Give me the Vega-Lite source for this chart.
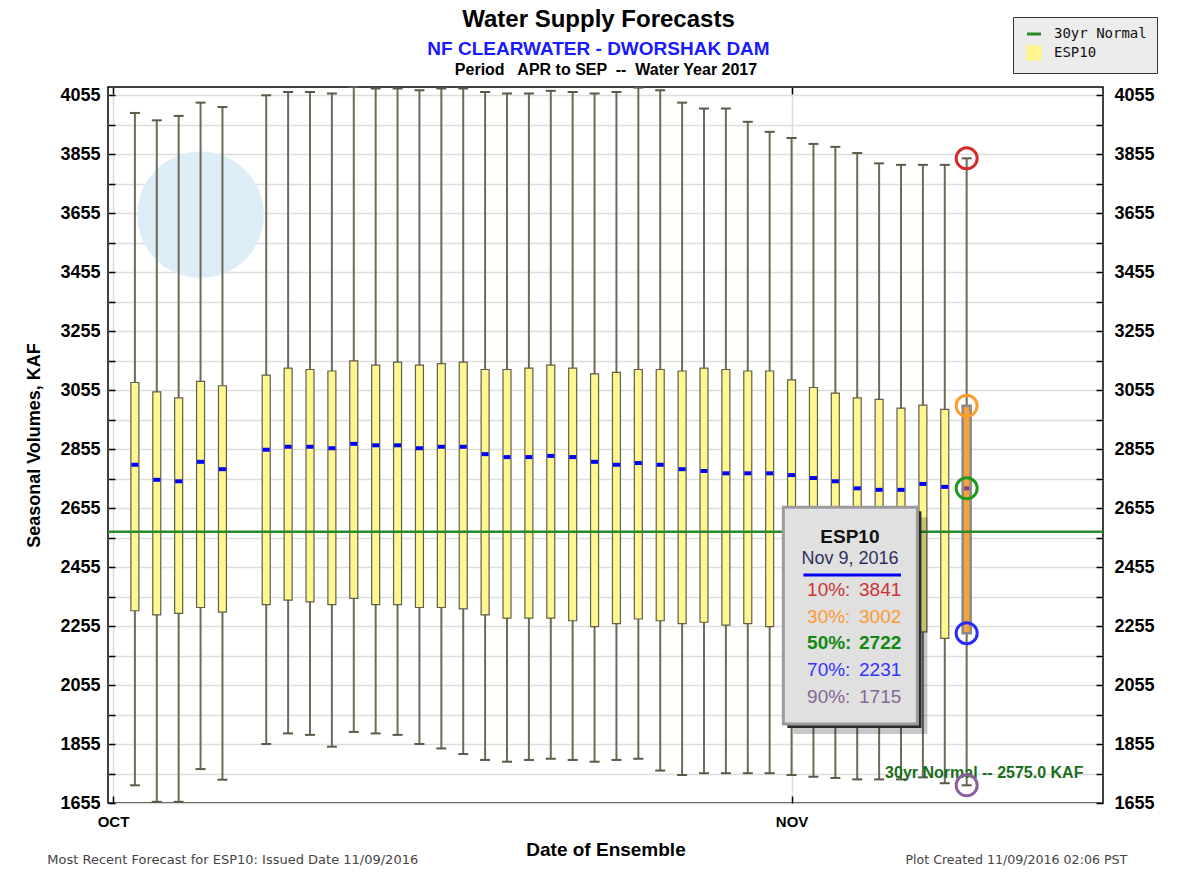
{
  "$schema": "https://vega.github.io/schema/vega-lite/v6.json",
  "width": 995,
  "height": 716,
  "autosize": "none",
  "padding": {"left": 108, "top": 87, "right": 75, "bottom": 75},
  "background": "white",
  "title": {
    "text": "Water Supply Forecasts",
    "subtitle": "NF CLEARWATER - DWORSHAK DAM",
    "font": "Liberation Sans", "fontSize": 24, "fontWeight": "bold", "color": "#000",
    "subtitleFont": "Liberation Sans", "subtitleFontSize": 19, "subtitleFontWeight": "bold", "subtitleColor": "#1a1aff",
    "anchor": "middle", "frame": "group", "dx": -7, "offset": -42, "subtitlePadding": 8
  },
  "datasets": {
    "esp": [
      {"date": "2016-10-02", "p10": 3995, "p30": 3081, "p50": 2802, "p70": 2307, "p90": 1715},
      {"date": "2016-10-03", "p10": 3970, "p30": 3049, "p50": 2751, "p70": 2293, "p90": 1659},
      {"date": "2016-10-04", "p10": 3985, "p30": 3029, "p50": 2746, "p70": 2298, "p90": 1659},
      {"date": "2016-10-05", "p10": 4030, "p30": 3085, "p50": 2812, "p70": 2318, "p90": 1770},
      {"date": "2016-10-06", "p10": 4015, "p30": 3070, "p50": 2787, "p70": 2302, "p90": 1734},
      {"date": "2016-10-08", "p10": 4055, "p30": 3106, "p50": 2853, "p70": 2328, "p90": 1855},
      {"date": "2016-10-09", "p10": 4066, "p30": 3130, "p50": 2863, "p70": 2343, "p90": 1891},
      {"date": "2016-10-10", "p10": 4066, "p30": 3125, "p50": 2863, "p70": 2337, "p90": 1886},
      {"date": "2016-10-11", "p10": 4061, "p30": 3120, "p50": 2858, "p70": 2328, "p90": 1846},
      {"date": "2016-10-12", "p10": 4083, "p30": 3154, "p50": 2873, "p70": 2349, "p90": 1896},
      {"date": "2016-10-13", "p10": 4078, "p30": 3140, "p50": 2868, "p70": 2328, "p90": 1891},
      {"date": "2016-10-14", "p10": 4078, "p30": 3150, "p50": 2868, "p70": 2328, "p90": 1886},
      {"date": "2016-10-15", "p10": 4072, "p30": 3140, "p50": 2858, "p70": 2318, "p90": 1855},
      {"date": "2016-10-16", "p10": 4078, "p30": 3145, "p50": 2863, "p70": 2318, "p90": 1840},
      {"date": "2016-10-17", "p10": 4078, "p30": 3150, "p50": 2863, "p70": 2313, "p90": 1821},
      {"date": "2016-10-18", "p10": 4066, "p30": 3125, "p50": 2838, "p70": 2293, "p90": 1801},
      {"date": "2016-10-19", "p10": 4061, "p30": 3125, "p50": 2828, "p70": 2282, "p90": 1795},
      {"date": "2016-10-20", "p10": 4061, "p30": 3130, "p50": 2828, "p70": 2282, "p90": 1801},
      {"date": "2016-10-21", "p10": 4070, "p30": 3140, "p50": 2832, "p70": 2282, "p90": 1805},
      {"date": "2016-10-22", "p10": 4066, "p30": 3130, "p50": 2828, "p70": 2273, "p90": 1801},
      {"date": "2016-10-23", "p10": 4061, "p30": 3110, "p50": 2812, "p70": 2253, "p90": 1795},
      {"date": "2016-10-24", "p10": 4066, "p30": 3115, "p50": 2802, "p70": 2263, "p90": 1801},
      {"date": "2016-10-25", "p10": 4081, "p30": 3125, "p50": 2808, "p70": 2279, "p90": 1805},
      {"date": "2016-10-26", "p10": 4072, "p30": 3125, "p50": 2802, "p70": 2273, "p90": 1765},
      {"date": "2016-10-27", "p10": 4030, "p30": 3120, "p50": 2787, "p70": 2263, "p90": 1750},
      {"date": "2016-10-28", "p10": 4010, "p30": 3130, "p50": 2781, "p70": 2268, "p90": 1756},
      {"date": "2016-10-29", "p10": 4010, "p30": 3125, "p50": 2773, "p70": 2258, "p90": 1756},
      {"date": "2016-10-30", "p10": 3965, "p30": 3120, "p50": 2773, "p70": 2263, "p90": 1756},
      {"date": "2016-10-31", "p10": 3931, "p30": 3120, "p50": 2773, "p70": 2253, "p90": 1756},
      {"date": "2016-11-01", "p10": 3910, "p30": 3090, "p50": 2767, "p70": 2250, "p90": 1750},
      {"date": "2016-11-02", "p10": 3890, "p30": 3064, "p50": 2757, "p70": 2245, "p90": 1744},
      {"date": "2016-11-03", "p10": 3880, "p30": 3045, "p50": 2746, "p70": 2242, "p90": 1740},
      {"date": "2016-11-04", "p10": 3859, "p30": 3029, "p50": 2722, "p70": 2238, "p90": 1735},
      {"date": "2016-11-05", "p10": 3824, "p30": 3024, "p50": 2717, "p70": 2236, "p90": 1735},
      {"date": "2016-11-06", "p10": 3819, "p30": 2994, "p50": 2717, "p70": 2236, "p90": 1735},
      {"date": "2016-11-07", "p10": 3819, "p30": 3004, "p50": 2737, "p70": 2235, "p90": 1742},
      {"date": "2016-11-08", "p10": 3819, "p30": 2990, "p50": 2727, "p70": 2213, "p90": 1722},
      {"date": "2016-11-09", "p10": 3841, "p30": 3002, "p50": 2722, "p70": 2231, "p90": 1715}
    ]
  },
  "data": {"name": "esp"},
  "layer": [
    {
      "data": {"values": [{}]},
      "mark": {"type": "point", "shape": "circle", "filled": true, "size": 16000, "color": "#dcedf7", "opacity": 1},
      "encoding": {
        "x": {"datum": {"year": 2016, "month": 10, "date": 5, "utc": true}, "type": "temporal", "axis": null},
        "y": {"datum": 3650, "type": "quantitative", "axis": null}
      }
    },
    {
      "mark": {"type": "rule", "stroke": "#6b6b58", "strokeWidth": 2},
      "encoding": {
        "x": {
          "field": "date", "type": "temporal",
          "scale": {"type": "utc", "domain": [{"year": 2016, "month": 10, "date": 1, "utc": true}, {"year": 2016, "month": 11, "date": 15, "utc": true}]},
          "axis": {
            "orient": "bottom",
            "values": [{"year": 2016, "month": 10, "date": 1, "utc": true}, {"year": 2016, "month": 11, "date": 1, "utc": true}],
            "labelExpr": "upper(utcFormat(datum.value, '%b'))",
            "title": "Date of Ensemble",
            "grid": true, "gridColor": "#dddddd", "gridWidth": 1.5,
            "domain": false,
            "tickSize": -7, "tickWidth": 1.5, "tickColor": "#000",
            "labelPadding": 18, "labelFont": "Liberation Sans", "labelFontSize": 15, "labelFontWeight": "bold", "labelColor": "#000", "labelFlush": false,
            "titleFont": "Liberation Sans", "titleFontSize": 19, "titleFontWeight": "bold", "titleColor": "#000", "titlePadding": 11
          }
        },
        "y": {
          "field": "p90", "type": "quantitative",
          "scale": {"domain": [1655, 4083], "zero": false, "nice": false},
          "axis": {
            "orient": "left",
            "values": [1655, 1755, 1855, 1955, 2055, 2155, 2255, 2355, 2455, 2555, 2655, 2755, 2855, 2955, 3055, 3155, 3255, 3355, 3455, 3555, 3655, 3755, 3855, 3955, 4055],
            "format": "d",
            "labelExpr": "(datum.value - 1655) % 200 === 0 ? datum.label : ''",
            "labelOverlap": false,
            "grid": true, "gridColor": "#dddddd", "gridWidth": 1.5,
            "domain": false,
            "tickSize": -7, "tickWidth": 1.5, "tickColor": "#000",
            "labelPadding": 15, "labelFont": "Liberation Sans", "labelFontSize": 18, "labelFontWeight": "bold", "labelColor": "#000",
            "title": "Seasonal Volumes, KAF",
            "titleFont": "Liberation Sans", "titleFontSize": 18, "titleFontWeight": "bold", "titleColor": "#000", "titlePadding": 16
          }
        },
        "y2": {"field": "p10"}
      }
    },
    {
      "mark": {"type": "tick", "orient": "horizontal", "color": "#5a5a48", "size": 10, "thickness": 2, "opacity": 1},
      "encoding": {
        "x": {"field": "date", "type": "temporal", "axis": null},
        "y": {"field": "p10", "type": "quantitative", "axis": null}
      }
    },
    {
      "mark": {"type": "tick", "orient": "horizontal", "color": "#5a5a48", "size": 10, "thickness": 2, "opacity": 1},
      "encoding": {
        "x": {"field": "date", "type": "temporal", "axis": null},
        "y": {"field": "p90", "type": "quantitative", "axis": null}
      }
    },
    {
      "mark": {"type": "bar", "width": 8, "stroke": "#5f5f4a", "strokeWidth": 1.2, "opacity": 1},
      "encoding": {
        "x": {
          "field": "date", "type": "temporal",
          "axis": {
            "orient": "top",
            "values": [{"year": 2016, "month": 10, "date": 1, "utc": true}, {"year": 2016, "month": 11, "date": 1, "utc": true}],
            "labels": false, "grid": false, "domain": false,
            "tickSize": -7, "tickWidth": 1.5, "tickColor": "#000",
            "title": "Period\u00a0\u00a0 APR to SEP \u00a0--\u00a0 Water Year 2017",
            "titleFont": "Liberation Sans", "titleFontSize": 16, "titleFontWeight": "bold", "titleColor": "#000", "titlePadding": 9
          }
        },
        "y": {
          "field": "p70", "type": "quantitative",
          "axis": {
            "orient": "right",
            "values": [1655, 1755, 1855, 1955, 2055, 2155, 2255, 2355, 2455, 2555, 2655, 2755, 2855, 2955, 3055, 3155, 3255, 3355, 3455, 3555, 3655, 3755, 3855, 3955, 4055],
            "format": "d",
            "labelExpr": "(datum.value - 1655) % 200 === 0 ? datum.label : ''",
            "labelOverlap": false,
            "grid": false, "domain": false,
            "tickSize": -7, "tickWidth": 1.5, "tickColor": "#000",
            "labelPadding": 18, "labelFont": "Liberation Sans", "labelFontSize": 18, "labelFontWeight": "bold", "labelColor": "#000",
            "title": null
          }
        },
        "y2": {"field": "p30"},
        "color": {
          "datum": "ESP10", "type": "nominal",
          "scale": {"domain": ["30yr Normal", "ESP10"], "range": ["#2a8a2a", "#fff68f"]},
          "legend": {
            "orient": "none", "legendX": 905, "legendY": -70, "title": null,
            "fillColor": "#ececec", "strokeColor": "#333333", "padding": 10,
            "labelFont": "DejaVu Sans Mono", "labelFontSize": 14, "labelColor": "#111111",
            "labelExpr": "datum.label + '\u00a0\u00a0'",
            "symbolSize": 196, "symbolOffset": 4, "labelOffset": 13, "rowPadding": 2,
            "encoding": {
              "symbols": {
                "shape": {"value": {"expr": "datum.value === 'ESP10' ? 'square' : 'stroke'"}},
                "fill": {"value": {"expr": "datum.value === 'ESP10' ? '#fff68f' : 'transparent'"}},
                "stroke": {"value": {"expr": "datum.value === 'ESP10' ? '#222222' : '#2a8a2a'"}},
                "strokeWidth": {"value": {"expr": "datum.value === 'ESP10' ? 1.5 : 3"}},
                "opacity": {"value": 1}
              }
            }
          }
        }
      }
    },
    {
      "mark": {"type": "tick", "orient": "horizontal", "color": "#0000ff", "size": 7, "thickness": 4, "opacity": 1},
      "encoding": {
        "x": {"field": "date", "type": "temporal", "axis": null},
        "y": {"field": "p50", "type": "quantitative", "axis": null}
      }
    },
    {
      "transform": [{"filter": {"field": "date", "equal": {"year": 2016, "month": 11, "date": 9, "utc": true}}}],
      "layer": [
        {
          "mark": {"type": "bar", "width": 8, "fill": "#f7a23c", "stroke": "#8a8a8a", "strokeWidth": 2.5, "opacity": 1},
          "encoding": {
            "x": {"field": "date", "type": "temporal", "axis": null},
            "y": {"field": "p70", "type": "quantitative", "axis": null},
            "y2": {"field": "p30"}
          }
        },
        {
          "mark": {"type": "tick", "orient": "horizontal", "color": "#7a4090", "size": 5, "thickness": 4, "opacity": 1},
          "encoding": {
            "x": {"field": "date", "type": "temporal", "axis": null},
            "y": {"field": "p50", "type": "quantitative", "axis": null}
          }
        }
      ]
    },
    {
      "data": {"values": [{}]},
      "mark": {"type": "rule", "strokeWidth": 2.5},
      "encoding": {
        "y": {"datum": 2575, "type": "quantitative", "axis": null},
        "color": {"datum": "30yr Normal", "type": "nominal"}
      }
    },
    {
      "data": {"values": [{}]},
      "mark": {"type": "text", "align": "right", "baseline": "middle", "font": "Liberation Sans", "fontSize": 16, "fontWeight": "bold", "color": "#1a6e1a"},
      "encoding": {
        "x": {"datum": {"year": 2016, "month": 11, "date": 14, "hours": 8, "utc": true}, "type": "temporal", "axis": null},
        "y": {"datum": 1757, "type": "quantitative", "axis": null},
        "text": {"value": "30yr Normal -- 2575.0 KAF"}
      }
    },
    {
      "transform": [
        {"filter": {"field": "date", "equal": {"year": 2016, "month": 11, "date": 9, "utc": true}}},
        {"fold": ["p10", "p30", "p50", "p70", "p90"], "as": ["key", "val"]}
      ],
      "mark": {"type": "point", "filled": false, "size": 441, "strokeWidth": 3, "opacity": 1},
      "encoding": {
        "x": {"field": "date", "type": "temporal", "axis": null},
        "y": {"field": "val", "type": "quantitative", "axis": null},
        "stroke": {
          "field": "key", "type": "nominal",
          "scale": {"domain": ["p10", "p30", "p50", "p70", "p90"], "range": ["#d42a2a", "#ff9d2a", "#1e9a1e", "#2a2aff", "#8c5f9c"]},
          "legend": null
        }
      }
    },
    {
      "data": {"values": [{}]},
      "layer": [
        {
          "mark": {"type": "rect", "fill": "#000000", "opacity": 0.22, "xOffset": 10, "x2Offset": 10, "yOffset": 10, "y2Offset": 10},
          "encoding": {
            "x": {"datum": {"year": 2016, "month": 10, "date": 31, "hours": 15, "utc": true}, "type": "temporal", "axis": null},
            "x2": {"datum": {"year": 2016, "month": 11, "date": 6, "hours": 18, "utc": true}},
            "y": {"datum": 2658, "type": "quantitative", "axis": null},
            "y2": {"datum": 1923}
          }
        },
        {
          "mark": {"type": "rect", "fill": "#2a2a2a", "xOffset": 4, "x2Offset": 4, "yOffset": 4, "y2Offset": 4},
          "encoding": {
            "x": {"datum": {"year": 2016, "month": 10, "date": 31, "hours": 15, "utc": true}, "type": "temporal", "axis": null},
            "x2": {"datum": {"year": 2016, "month": 11, "date": 6, "hours": 18, "utc": true}},
            "y": {"datum": 2658, "type": "quantitative", "axis": null},
            "y2": {"datum": 1923}
          }
        },
        {
          "mark": {"type": "rect", "fill": "#e0e0e0", "stroke": "#9c9c9c", "strokeWidth": 3},
          "encoding": {
            "x": {"datum": {"year": 2016, "month": 10, "date": 31, "hours": 15, "utc": true}, "type": "temporal", "axis": null},
            "x2": {"datum": {"year": 2016, "month": 11, "date": 6, "hours": 18, "utc": true}},
            "y": {"datum": 2658, "type": "quantitative", "axis": null},
            "y2": {"datum": 1923}
          }
        },
        {
          "mark": {"type": "rule", "stroke": "#0000ff", "strokeWidth": 3},
          "encoding": {
            "x": {"datum": {"year": 2016, "month": 11, "date": 1, "hours": 13, "utc": true}, "type": "temporal", "axis": null},
            "x2": {"datum": {"year": 2016, "month": 11, "date": 6, "hours": 0, "utc": true}},
            "y": {"datum": 2428, "type": "quantitative", "axis": null}
          }
        },
        {
          "mark": {"type": "text", "align": "center", "baseline": "middle", "font": "Liberation Sans", "fontSize": 19, "fontWeight": "bold", "color": "#111111"},
          "encoding": {
            "x": {"datum": {"year": 2016, "month": 11, "date": 3, "hours": 16, "utc": true}, "type": "temporal", "axis": null},
            "y": {"datum": 2557, "type": "quantitative", "axis": null},
            "text": {"value": "ESP10"}
          }
        },
        {
          "mark": {"type": "text", "align": "center", "baseline": "middle", "font": "Liberation Sans", "fontSize": 18, "color": "#303060"},
          "encoding": {
            "x": {"datum": {"year": 2016, "month": 11, "date": 3, "hours": 16, "utc": true}, "type": "temporal", "axis": null},
            "y": {"datum": 2482, "type": "quantitative", "axis": null},
            "text": {"value": "Nov 9, 2016"}
          }
        }
      ]
    },
    {
      "transform": [{"filter": {"field": "date", "equal": {"year": 2016, "month": 11, "date": 9, "utc": true}}}],
      "layer": [
        {"mark": {"type": "text", "align": "left", "baseline": "middle", "font": "Liberation Sans", "fontSize": 19, "color": "#cc3333"},
         "encoding": {"x": {"datum": {"year": 2016, "month": 11, "date": 1, "hours": 17, "utc": true}, "type": "temporal", "axis": null}, "y": {"datum": 2377, "type": "quantitative", "axis": null}, "text": {"value": "10%:"}}},
        {"mark": {"type": "text", "align": "left", "baseline": "middle", "font": "Liberation Sans", "fontSize": 19, "color": "#cc3333"},
         "encoding": {"x": {"datum": {"year": 2016, "month": 11, "date": 4, "hours": 2, "utc": true}, "type": "temporal", "axis": null}, "y": {"datum": 2377, "type": "quantitative", "axis": null}, "text": {"field": "p10", "type": "quantitative", "format": "d"}}},
        {"mark": {"type": "text", "align": "left", "baseline": "middle", "font": "Liberation Sans", "fontSize": 19, "color": "#ff9933"},
         "encoding": {"x": {"datum": {"year": 2016, "month": 11, "date": 1, "hours": 17, "utc": true}, "type": "temporal", "axis": null}, "y": {"datum": 2285, "type": "quantitative", "axis": null}, "text": {"value": "30%:"}}},
        {"mark": {"type": "text", "align": "left", "baseline": "middle", "font": "Liberation Sans", "fontSize": 19, "color": "#ff9933"},
         "encoding": {"x": {"datum": {"year": 2016, "month": 11, "date": 4, "hours": 2, "utc": true}, "type": "temporal", "axis": null}, "y": {"datum": 2285, "type": "quantitative", "axis": null}, "text": {"field": "p30", "type": "quantitative", "format": "d"}}},
        {"mark": {"type": "text", "align": "left", "baseline": "middle", "font": "Liberation Sans", "fontSize": 19, "fontWeight": "bold", "color": "#118811"},
         "encoding": {"x": {"datum": {"year": 2016, "month": 11, "date": 1, "hours": 17, "utc": true}, "type": "temporal", "axis": null}, "y": {"datum": 2197, "type": "quantitative", "axis": null}, "text": {"value": "50%:"}}},
        {"mark": {"type": "text", "align": "left", "baseline": "middle", "font": "Liberation Sans", "fontSize": 19, "fontWeight": "bold", "color": "#118811"},
         "encoding": {"x": {"datum": {"year": 2016, "month": 11, "date": 4, "hours": 2, "utc": true}, "type": "temporal", "axis": null}, "y": {"datum": 2197, "type": "quantitative", "axis": null}, "text": {"field": "p50", "type": "quantitative", "format": "d"}}},
        {"mark": {"type": "text", "align": "left", "baseline": "middle", "font": "Liberation Sans", "fontSize": 19, "color": "#3333ff"},
         "encoding": {"x": {"datum": {"year": 2016, "month": 11, "date": 1, "hours": 17, "utc": true}, "type": "temporal", "axis": null}, "y": {"datum": 2106, "type": "quantitative", "axis": null}, "text": {"value": "70%:"}}},
        {"mark": {"type": "text", "align": "left", "baseline": "middle", "font": "Liberation Sans", "fontSize": 19, "color": "#3333ff"},
         "encoding": {"x": {"datum": {"year": 2016, "month": 11, "date": 4, "hours": 2, "utc": true}, "type": "temporal", "axis": null}, "y": {"datum": 2106, "type": "quantitative", "axis": null}, "text": {"field": "p70", "type": "quantitative", "format": "d"}}},
        {"mark": {"type": "text", "align": "left", "baseline": "middle", "font": "Liberation Sans", "fontSize": 19, "color": "#886699"},
         "encoding": {"x": {"datum": {"year": 2016, "month": 11, "date": 1, "hours": 17, "utc": true}, "type": "temporal", "axis": null}, "y": {"datum": 2014, "type": "quantitative", "axis": null}, "text": {"value": "90%:"}}},
        {"mark": {"type": "text", "align": "left", "baseline": "middle", "font": "Liberation Sans", "fontSize": 19, "color": "#886699"},
         "encoding": {"x": {"datum": {"year": 2016, "month": 11, "date": 4, "hours": 2, "utc": true}, "type": "temporal", "axis": null}, "y": {"datum": 2014, "type": "quantitative", "axis": null}, "text": {"field": "p90", "type": "quantitative", "format": "d"}}}
      ]
    },
    {
      "data": {"values": [{}]},
      "layer": [
        {
          "mark": {"type": "text", "align": "left", "baseline": "middle", "font": "DejaVu Sans", "fontSize": 13, "color": "#444444"},
          "encoding": {
            "x": {"datum": {"year": 2016, "month": 9, "date": 28, "utc": true}, "type": "temporal", "axis": null},
            "y": {"datum": 1462, "type": "quantitative", "axis": null},
            "text": {"value": "Most Recent Forecast for ESP10: Issued Date 11/09/2016"}
          }
        },
        {
          "mark": {"type": "text", "align": "right", "baseline": "middle", "font": "DejaVu Sans", "fontSize": 12.6, "color": "#444444"},
          "encoding": {
            "x": {"datum": {"year": 2016, "month": 11, "date": 16, "hours": 8, "utc": true}, "type": "temporal", "axis": null},
            "y": {"datum": 1462, "type": "quantitative", "axis": null},
            "text": {"value": "Plot Created 11/09/2016 02:06 PST"}
          }
        }
      ]
    }
  ],
  "resolve": {"axis": {"x": "independent", "y": "independent"}},
  "config": {
    "font": "Liberation Sans",
    "view": {"stroke": "#000000", "strokeWidth": 1.5}
  }
}
